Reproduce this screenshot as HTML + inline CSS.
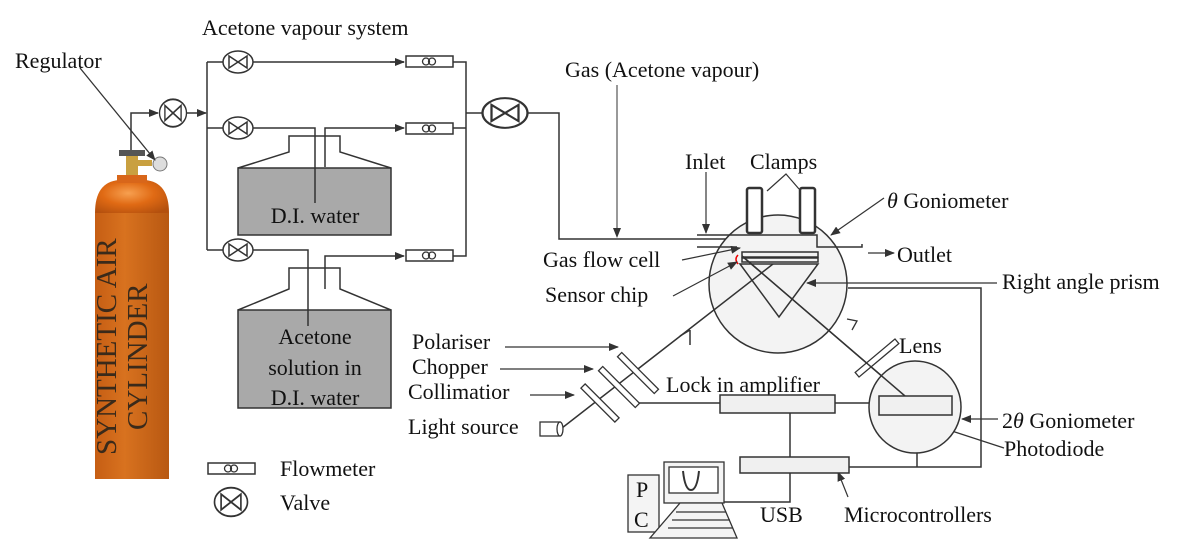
<!DOCTYPE html>
<html><head><meta charset="utf-8"><style>
html,body{margin:0;padding:0;background:#fff;}
svg{display:block;}
text{font-family:"Liberation Serif",serif;font-size:22px;fill:#111;}
</style></head><body>
<svg width="1197" height="547" viewBox="0 0 1197 547" xmlns="http://www.w3.org/2000/svg">
<defs>
<marker id="a" markerWidth="10" markerHeight="8" refX="9" refY="4" orient="auto" markerUnits="userSpaceOnUse"><path d="M0,0 L10,4 L0,8 z" fill="#333"/></marker>
<linearGradient id="cyl" x1="0" x2="1"><stop offset="0" stop-color="#c65e14"/><stop offset="0.4" stop-color="#d8721f"/><stop offset="1" stop-color="#b85812"/></linearGradient>
<radialGradient id="dome" cx="0.45" cy="0.4" r="0.7"><stop offset="0" stop-color="#f7a050"/><stop offset="0.5" stop-color="#e06a14"/><stop offset="1" stop-color="#b4500e"/></radialGradient>
<g id="v"><ellipse cx="0" cy="0" rx="15" ry="11" fill="#fff" stroke="#333" stroke-width="1.5"/><path d="M-9,-6 L9,6 L9,-6 L-9,6 z" fill="none" stroke="#333" stroke-width="1.5"/></g>
<g id="f"><rect x="0" y="0" width="47" height="11" fill="#fff" stroke="#333" stroke-width="1.5"/><circle cx="20" cy="5.5" r="3.5" fill="none" stroke="#333" stroke-width="1.3"/><circle cx="26" cy="5.5" r="3.5" fill="none" stroke="#333" stroke-width="1.3"/></g>
</defs>
<g stroke="#333" stroke-width="1.5" fill="none">
<!-- cylinder piping -->
<path d="M131,153 L131,113 L158,113" marker-end="url(#a)"/>
<path d="M186,113 L206,113" marker-end="url(#a)"/>
<path d="M207,62 L207,250"/>
<path d="M207,62 L223,62 M253,62 L404,62" />
<path d="M390,62 L404,62" marker-end="url(#a)"/>
<path d="M207,128 L223,128 M253,128 L315,128 L315,203"/>
<path d="M325,167 L325,128 L404,128" marker-end="url(#a)"/>
<path d="M207,250 L223,250 M253,250 L308,250 L308,326"/>
<path d="M325,289 L325,256 L404,256" marker-end="url(#a)"/>
<path d="M453,62 L466,62 L466,256 L453,256 M453,128 L466,128"/>
<path d="M466,113 L482,113 M528,113 L559,113 L559,239 L740,239"/>
</g>
<use href="#v" x="238" y="62"/><use href="#v" x="238" y="128"/><use href="#v" x="238" y="250"/>
<g transform="translate(173,113) scale(0.9,1.25)"><use href="#v"/></g>
<g transform="translate(505,113) scale(1.5,1.35)"><use href="#v"/></g>
<use href="#f" x="406" y="56"/><use href="#f" x="406" y="123"/><use href="#f" x="406" y="250"/>
<!-- bottles -->
<g stroke="#333" stroke-width="1.5">
<rect x="238" y="168" width="153" height="67" fill="#a9a9a9"/>
<path d="M238,168 L289,152 L289,136 L340,136 L340,152 L391,168" fill="none"/>
<rect x="238" y="310" width="153" height="98" fill="#a9a9a9"/>
<path d="M238,310 L289,289 L289,268 L340,268 L340,289 L391,310" fill="none"/>
<path d="M315,168 L315,203 M308,310 L308,326" fill="none"/>
</g>
<text x="315" y="223" text-anchor="middle">D.I. water</text>
<text x="315" y="344" text-anchor="middle">Acetone</text>
<text x="315" y="375" text-anchor="middle">solution in</text>
<text x="315" y="405" text-anchor="middle">D.I. water</text>
<!-- cylinder -->
<rect x="119" y="150" width="26" height="6" fill="#555"/>
<rect x="126" y="156" width="12" height="22" fill="#c9a040"/>
<rect x="138" y="160" width="14" height="6" fill="#c9a040"/>
<circle cx="160" cy="164" r="7" fill="#ddd" stroke="#777"/>
<path d="M95,213 Q95,182 119,180 L145,180 Q169,182 169,213 z" fill="url(#dome)"/>
<rect x="117" y="175" width="30" height="8" fill="#d8661a"/>
<rect x="95" y="213" width="74" height="266" fill="url(#cyl)"/>
<text transform="translate(116,455) rotate(-90)" style="font-size:29px;fill:#3a2a1a">SYNTHETIC AIR</text>
<text transform="translate(147,430) rotate(-90)" style="font-size:29px;fill:#3a2a1a">CYLINDER</text>
<line x1="80" y1="68" x2="155" y2="160" stroke="#333" stroke-width="1.3" marker-end="url(#a)"/>
<text x="15" y="68">Regulator</text>
<text x="202" y="35">Acetone vapour system</text>
<text x="565" y="77">Gas (Acetone vapour)</text>
<line x1="617" y1="85" x2="617" y2="237" stroke="#333" stroke-width="1" marker-end="url(#a)"/>
<!-- legend -->
<use href="#f" x="208" y="463"/>
<text x="280" y="476">Flowmeter</text>
<g transform="translate(231,502) scale(1.1,1.3)"><use href="#v"/></g>
<text x="280" y="510">Valve</text>
<!-- theta goniometer -->
<ellipse cx="778" cy="284" rx="69" ry="69" fill="#f3f3f3" stroke="#333" stroke-width="1.5"/>
<g stroke="#333" stroke-width="1.5" fill="none">
<path d="M697,235 L817,235 L817,247 L862,247 L862,244"/>
<path d="M697,247 L737,247"/>
<rect x="742" y="252" width="76" height="5"/>
<rect x="742" y="258" width="76" height="4"/>
<path d="M740,264 L818,264 L779,317 z"/>
<path d="M562,428 L773,264"/>
<path d="M742,256 L905,396"/>
<path d="M690,330 L680,336 M690,330 L690,345"/>
<path d="M848,288 L981,288 L981,467 L849,467"/>
<path d="M917,453 L917,467"/>
<path d="M639,403 L720,403 M835,403 L879,403"/>
<path d="M790,413 L790,457 M790,473 L790,502 L724,502"/>
</g>
<path d="M738,255 Q734,259 738,264" stroke="#e00" stroke-width="1.5" fill="none"/>
<rect x="747" y="188" width="15" height="45" rx="2" fill="#fff" stroke="#333" stroke-width="2.5"/>
<rect x="800" y="188" width="15" height="45" rx="2" fill="#fff" stroke="#333" stroke-width="2.5"/>
<path d="M847,319 L857,321 L852,330" stroke="#333" fill="none" stroke-width="1.3"/>
<!-- labels with arrows -->
<g stroke="#333" stroke-width="1.2" fill="none">
<line x1="706" y1="172" x2="706" y2="233" marker-end="url(#a)"/>
<path d="M767,191 L786,174 L799,189"/>
<line x1="884" y1="198" x2="831" y2="235" marker-end="url(#a)"/>
<line x1="868" y1="253" x2="894" y2="253" marker-end="url(#a)"/>
<line x1="682" y1="260" x2="740" y2="248" marker-end="url(#a)"/>
<line x1="673" y1="296" x2="737" y2="262" marker-end="url(#a)"/>
<line x1="997" y1="283" x2="807" y2="283" marker-end="url(#a)"/>
<line x1="505" y1="347" x2="618" y2="347" marker-end="url(#a)"/>
<line x1="500" y1="369" x2="593" y2="369" marker-end="url(#a)"/>
<line x1="530" y1="395" x2="574" y2="395" marker-end="url(#a)"/>
<line x1="998" y1="419" x2="962" y2="419" marker-end="url(#a)"/>
<line x1="1004" y1="448" x2="915" y2="419" marker-end="url(#a)"/>
<line x1="848" y1="497" x2="838" y2="472" marker-end="url(#a)"/>
</g>
<text x="685" y="169">Inlet</text>
<text x="750" y="169">Clamps</text>
<text x="887" y="208"><tspan font-style="italic">θ</tspan> Goniometer</text>
<text x="897" y="262">Outlet</text>
<text x="543" y="267">Gas flow cell</text>
<text x="545" y="302">Sensor chip</text>
<text x="1002" y="289">Right angle prism</text>
<text x="412" y="349">Polariser</text>
<text x="412" y="374">Chopper</text>
<text x="408" y="399">Collimatior</text>
<text x="408" y="434">Light source</text>
<text x="666" y="392">Lock in amplifier</text>
<text x="899" y="353">Lens</text>
<text x="1002" y="428">2<tspan font-style="italic">θ</tspan> Goniometer</text>
<text x="1004" y="456">Photodiode</text>
<text x="844" y="522">Microcontrollers</text>
<text x="760" y="522">USB</text>
<!-- optics -->
<g fill="#fff" stroke="#333" stroke-width="1.3">
<rect x="-3" y="-26" width="6" height="52" transform="translate(638,373) rotate(-45)"/>
<rect x="-3" y="-26" width="6" height="52" transform="translate(619,387) rotate(-45)"/>
<rect x="-3" y="-24" width="6" height="48" transform="translate(600,403) rotate(-45)"/>
<rect x="-3" y="-26" width="6" height="52" transform="translate(877,358) rotate(50)"/>
<rect x="540" y="422" width="20" height="14"/>
<ellipse cx="560" cy="429" rx="3" ry="7"/>
</g>
<!-- 2theta goniometer -->
<ellipse cx="915" cy="407" rx="46" ry="46" fill="#f3f3f3" stroke="#333" stroke-width="1.5"/>
<path d="M742,256 L905,396" stroke="#333" stroke-width="1.5"/>
<rect x="879" y="396" width="73" height="19" fill="#f0f0f0" stroke="#333" stroke-width="1.5"/>
<rect x="720" y="395" width="115" height="18" fill="#f0f0f0" stroke="#333" stroke-width="1.5"/>
<rect x="740" y="457" width="109" height="16" fill="#f0f0f0" stroke="#333" stroke-width="1.5"/>
<!-- PC -->
<g stroke="#333" stroke-width="1.3">
<rect x="628" y="475" width="31" height="57" fill="#f4f4f4"/>
<rect x="664" y="462" width="60" height="41" fill="#f4f4f4"/>
<rect x="669" y="467" width="49" height="26" fill="#fff"/>
<path d="M683,471 Q685,490 691,490 Q697,490 699,471" fill="none" stroke-width="2"/>
<path d="M680,503 L722,503 L737,538 L650,538 z" fill="#f4f4f4"/>
<path d="M676,512 L726,512 M672,520 L730,520 M668,528 L733,528" fill="none"/>
</g>
<text x="636" y="497">P</text>
<text x="634" y="527">C</text>
</svg>
</body></html>
